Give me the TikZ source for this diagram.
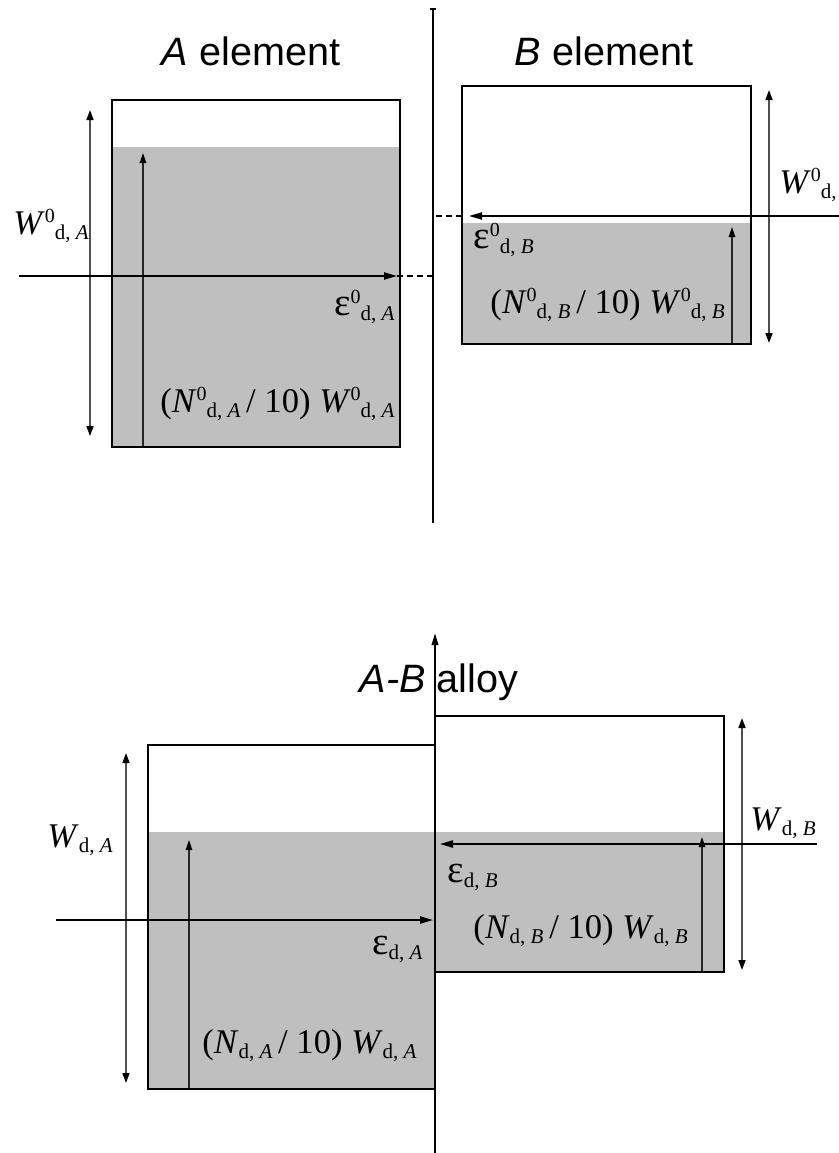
\documentclass[tikz,border=0pt]{standalone}
\usepackage{fontspec}
\setmainfont{Liberation Serif}
\newfontfamily\titlefont{Liberation Sans}
\usetikzlibrary{arrows.meta}
\definecolor{wetgrey}{RGB}{191,191,191}
\definecolor{dimgrey}{RGB}{80,80,80}
\newcommand{\upsc}[1]{\raisebox{6pt}{\fontsize{10}{10}\selectfont #1}}
\newcommand{\dnsc}[1]{\raisebox{-2.5pt}{\fontsize{10.5}{10}\selectfont #1}}
\newcommand{\epsl}{{\fontsize{19.5}{20}\selectfont ε}}
\tikzset{
  wet/.style    ={fill=wetgrey, draw=none},
  cell/.style   ={draw=black, line width=1pt},
  axisline/.style={draw=black, line width=1pt},
  eparrow/.style={-{Triangle[length=6.5pt, width=3.6pt]}, line width=0.8pt, black},
  eptail/.style ={densely dashed, line width=0.8pt, black},
  dimarrow/.style={{Triangle[length=5pt, width=3.5pt, color=black]}-{Triangle[length=5pt, width=3.5pt, color=black]},
                  line width=0.8pt, dimgrey},
  fillarrow/.style={-{Triangle[length=5pt, width=3.2pt, color=black]}, line width=0.8pt, black!85},
  lab/.style    ={inner sep=0pt, font=\fontsize{17.3}{20}\selectfont},
  headline/.style={inner sep=0pt, font=\titlefont\fontsize{19.8}{22}\selectfont},
}

\begin{document}
\begin{tikzpicture}[x=0.5pt, y=-0.5pt]
\useasboundingbox (0,0) rectangle (839,1153);
% ---- pure elements ----
\fill[wet] (112,147) rectangle (400,447);
\fill[wet] (462,223) rectangle (751,344);
\coordinate (axT) at (432.5,8); \coordinate (axB) at (432.5,523);
\coordinate (epA0) at (19,276); \coordinate (epA1) at (397,276); \coordinate (epAax) at (432.5,276);
\coordinate (epB0) at (839,216); \coordinate (epB1) at (469,216); \coordinate (epBbox) at (462,216); \coordinate (epBax) at (432.5,216);
\coordinate (wA0) at (90,436); \coordinate (wA1) at (90,110);
\coordinate (nA0) at (143,447); \coordinate (nA1) at (143,153);
\coordinate (wB0) at (769,343); \coordinate (wB1) at (769,90);
\coordinate (nB0) at (732,344); \coordinate (nB1) at (732,227);
\draw[dimarrow] (wA0) -- (wA1);
\draw[fillarrow] (nA0) -- (nA1);
\draw[dimarrow] (wB0) -- (wB1);
\draw[fillarrow] (nB0) -- (nB1);
\draw[eparrow] (epA0) -- (epA1);
\draw[eptail] (epA1) -- (epAax);
\draw[eparrow] (epB0) -- (epB1);
\draw[eptail] (epBbox) -- (epBax);
\draw[cell] (112,100) rectangle (400,447);
\draw[cell] (462,86) rectangle (751,344);
\draw[axisline, -{Bar[width=3pt]}] (axB) -- (axT);
\node[headline, anchor=base] (titleA) at (251,65) {\textit{A} element};
\node[headline, anchor=base] (titleB) at (604,65) {\textit{B} element};
\node[lab, anchor=base west] (labWA0) at (13,234) {\textit{W}\upsc{0}\dnsc{d, \textit{A}}};
\node[lab, anchor=base east] (labEA0) at (395,315) {\epsl\upsc{0}\dnsc{d, \textit{A}}};
\node[lab, anchor=base east] (labNA0) at (395,412) {(\textit{N}\upsc{0}\dnsc{d, \textit{A}}\,/ 10) \textit{W}\upsc{0}\dnsc{d, \textit{A}}};
\begin{scope}
  \clip (0,0) rectangle (839,1153);
  \node[lab, anchor=base west] (labWB0) at (779,193) {\textit{W}\upsc{0}\dnsc{d, \textit{B}}};
\end{scope}
\node[lab, anchor=base west] (labEB0) at (473,248) {\epsl\upsc{0}\dnsc{d, \textit{B}}};
\node[lab, anchor=base east] (labNB0) at (725,313) {(\textit{N}\upsc{0}\dnsc{d, \textit{B}}\,/ 10) \textit{W}\upsc{0}\dnsc{d, \textit{B}}};
% ---- A-B alloy ----
\fill[wet] (148,832) rectangle (435,1089);
\fill[wet] (435,832) rectangle (724,972);
\coordinate (alT) at (435,633); \coordinate (alB) at (435,1153);
\coordinate (epA2) at (56,920); \coordinate (epA3) at (433,920);
\coordinate (epB2) at (817,844); \coordinate (epB3) at (440,844);
\coordinate (wA2) at (126,1083); \coordinate (wA3) at (126,753);
\coordinate (nA2) at (189,1089); \coordinate (nA3) at (189,840);
\coordinate (wB2) at (742,970); \coordinate (wB3) at (742,718);
\coordinate (nB2) at (702,972); \coordinate (nB3) at (702,837);
\draw[dimarrow] (wA2) -- (wA3);
\draw[fillarrow] (nA2) -- (nA3);
\draw[dimarrow] (wB2) -- (wB3);
\draw[fillarrow] (nB2) -- (nB3);
\draw[eparrow] (epA2) -- (epA3);
\draw[eparrow] (epB2) -- (epB3);
\draw[cell] (148,745) rectangle (435,1089);
\draw[cell] (435,716) rectangle (724,972);
\draw[axisline, -{Triangle[length=6pt, width=3.2pt]}] (alB) -- (alT);
\node[headline, anchor=base] (titleAB) at (439,692) {\textit{A-B} alloy};
\node[lab, anchor=base west] (labWA) at (47,847) {\textit{W}\dnsc{d, \textit{A}}};
\node[lab, anchor=base east] (labEA) at (423,954) {\epsl\dnsc{d, \textit{A}}};
\node[lab, anchor=base east] (labNA) at (417,1053) {(\textit{N}\dnsc{d, \textit{A}}\,/ 10) \textit{W}\dnsc{d, \textit{A}}};
\node[lab, anchor=base west] (labWB) at (750,830) {\textit{W}\dnsc{d, \textit{B}}};
\node[lab, anchor=base west] (labEB) at (447,882) {\epsl\dnsc{d, \textit{B}}};
\node[lab, anchor=base east] (labNB) at (688,938) {(\textit{N}\dnsc{d, \textit{B}}\,/ 10) \textit{W}\dnsc{d, \textit{B}}};
\end{tikzpicture}
\end{document}
